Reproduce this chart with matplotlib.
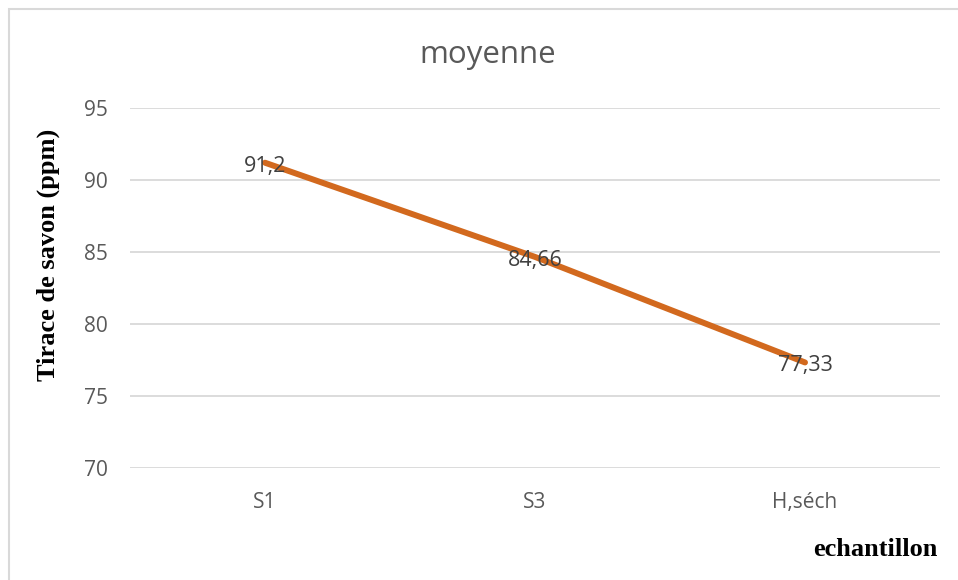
import matplotlib
matplotlib.use('Agg')
import matplotlib.pyplot as plt
from matplotlib.patches import Rectangle

# mean soap trace per sample
echantillons = ['S1', 'S3', 'H,séch']
moyenne = [91.2, 84.66, 77.33]
etiquettes = ['91,2', '84,66', '77,33']
yticks = [70, 75, 80, 85, 90, 95]

gris = '#595959'
orange = '#D2691E'

fig = plt.figure(figsize=(9.58, 5.80), dpi=100)
ax = fig.add_axes([130/958, 1-468/580, 810/958, 360/580])

x = list(range(len(echantillons)))
ax.plot(x, moyenne, color=orange, lw=4.3, solid_capstyle='round', zorder=3)
for xi, yi, lab in zip(x, moyenne, etiquettes):
    ax.annotate(lab, (xi, yi), xytext=(0, -2.5), textcoords='offset points',
                ha='center', va='center', fontsize=15.5,
                family='Open Sans', color='#404040', zorder=4)

ax.set_xlim(-0.5, 2.5)
ax.set_ylim(70, 95)
ax.set_yticks(yticks)
ax.set_yticklabels([str(v) for v in yticks], family='Open Sans', fontsize=15, color=gris)
ax.set_xticks(x)
ax.set_xticklabels(echantillons, family='Open Sans', fontsize=15, color=gris)
ax.tick_params(axis='both', length=0)
ax.tick_params(axis='y', pad=16)
ax.tick_params(axis='x', pad=17)
ax.grid(axis='y', color='#D9D9D9', lw=1.3)
ax.set_axisbelow(True)
for s in ax.spines.values():
    s.set_visible(False)

fig.text(488/958, 1-55/580, 'moyenne', ha='center', va='center',
         family='Open Sans', fontsize=22.5, color=gris)
fig.text(48/958, 1-255/580, 'Tirace de savon (ppm)', rotation=90, ha='center', va='center',
         family='Liberation Serif', fontweight='bold', fontsize=19, color='black')
fig.text(875/958, 1-550/580, 'echantillon', ha='center', va='center',
         family='Liberation Serif', fontweight='bold', fontsize=19, color='black')

# chart frame, only left and top edges fall inside the image
fig.add_artist(Rectangle((9/958, -0.1), 1.2, 1.1 - 9/580, transform=fig.transFigure,
                         fill=False, edgecolor='#D9D9D9', lw=1.5))

fig.savefig('out.png', dpi=100)
